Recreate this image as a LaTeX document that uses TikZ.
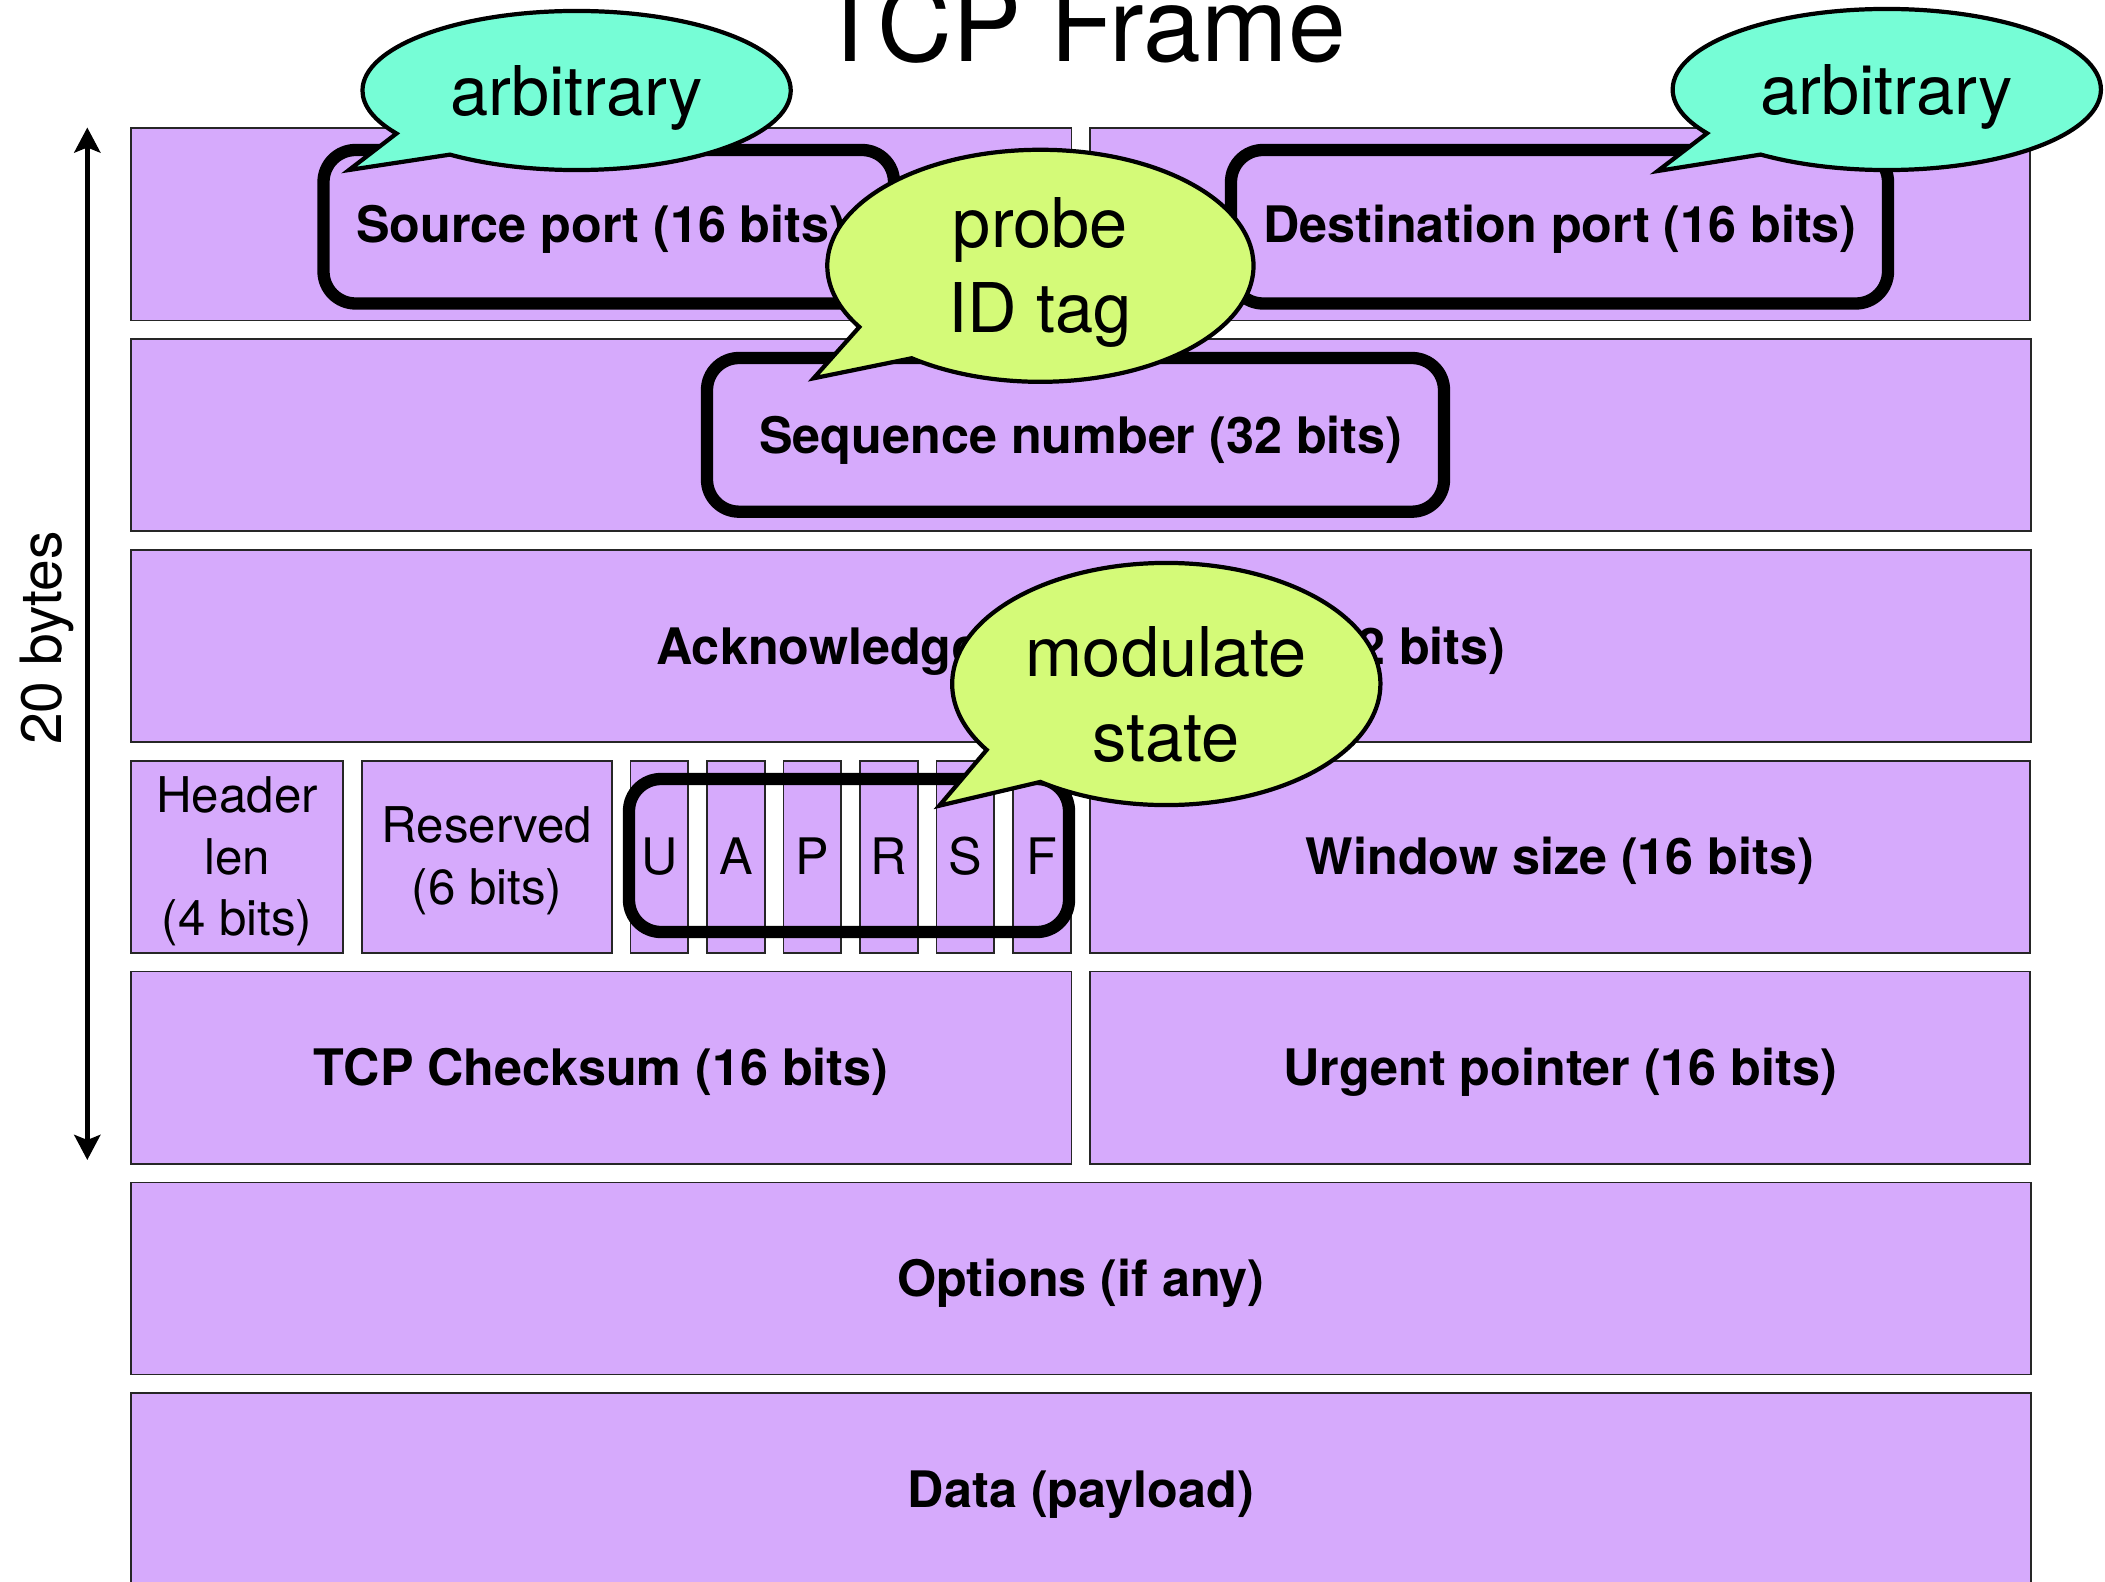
\documentclass[tikz,border=0pt]{standalone}
\usepackage{fontspec}
\setmainfont{TeX Gyre Heros}
\usetikzlibrary{arrows.meta,shapes.callouts}

\definecolor{fieldpurple}{RGB}{214,170,252}
\definecolor{bubbleaqua}{RGB}{118,253,214}
\definecolor{bubblelime}{RGB}{212,250,120}

\begin{document}
\begin{tikzpicture}[x=0.01cm,y=-0.01cm,
  field/.style={draw=black!85,line width=0.5pt,fill=fieldpurple,minimum height=1.92cm,
    anchor=north west,inner sep=0pt,align=center},
  boldlabel/.style={font=\fontsize{14.3}{17.5}\selectfont\bfseries,text height=0.48cm,text depth=0.12cm},
  smallfield/.style={font=\fontsize{14}{17.5}\selectfont},
  flaglabel/.style={font=\fontsize{14.3}{17.5}\selectfont,text height=0.48cm,text depth=0.12cm},
  ring/.style={draw=black,line width=3.5pt,rounded corners=0.32cm},
  bubble/.style={ellipse callout,draw=black,line width=1.2pt,callout pointer arc=21,
    inner sep=0pt,align=center,font=\fontsize{19.5}{24.2}\selectfont},
  span/.style={line width=1.4pt,{Stealth[length=0.25cm,width=0.26cm,inset=0.05cm]}-{Stealth[length=0.25cm,width=0.26cm,inset=0.05cm]}}]
\useasboundingbox (0,0) rectangle (2105,1582);
\clip (0,0) rectangle (2105,1582);

\node[anchor=base,font=\fontsize{29.5}{32}\selectfont] (title) at (1082,61.7) {TCP Frame};

\node[field,boldlabel,minimum width=9.4cm] (srcport) at (130,127.5) {Source port (16 bits)};
\node[field,boldlabel,minimum width=9.4cm] (dstport) at (1088.8,127.5) {Destination port (16 bits)};
\node[field,boldlabel,minimum width=18.988cm] (seqnum) at (130,338.3) {Sequence number (32 bits)};
\node[field,boldlabel,minimum width=18.988cm] (acknum) at (130,549.1) {Acknowledgement number (32 bits)};
\node[field,smallfield,minimum width=2.123cm] (hdrlen) at (130,759.9) {\rule{0pt}{0.45cm}Header\\len\\(4 bits)};
\node[field,smallfield,minimum width=2.497cm] (reserved) at (361.1,759.9) {\rule{0pt}{0.44cm}Reserved\\(6 bits)};
\foreach \f [count=\i from 0] in {U,A,P,R,S,F}
  \node[field,flaglabel,minimum width=0.577cm] (flag\f) at (629.6+76.5*\i,759.9) {\f};
\node[field,boldlabel,minimum width=9.4cm] (window) at (1088.8,759.9) {Window size (16 bits)};
\node[field,boldlabel,minimum width=9.4cm] (checksum) at (130,970.7) {TCP Checksum (16 bits)};
\node[field,boldlabel,minimum width=9.4cm] (urgent) at (1088.8,970.7) {Urgent pointer (16 bits)};
\node[field,boldlabel,minimum width=18.988cm] (options) at (130,1181.5) {Options (if any)};
\node[field,boldlabel,minimum width=18.988cm] (payload) at (130,1392.3) {Data (payload)};

\coordinate (bytestop) at (87.3,127.5);
\coordinate (bytesbot) at (87.3,1160);
\draw[span] (bytestop) -- (bytesbot);
\node[rotate=90,inner sep=0pt,font=\fontsize{16.2}{18}\selectfont] (bytes) at (46.7,638) {20 bytes};

\draw[ring] (323.5,150) rectangle (894,303.5);
\draw[ring] (1231,150) rectangle (1888,303.5);
\draw[ring] (707,358) rectangle (1444,511.7);
\draw[ring] (629,779) rectangle (1069,932);

\coordinate (srctip) at (349,170);
\coordinate (dsttip) at (1657.7,171);
\coordinate (probetip) at (813.6,378.3);
\coordinate (flagtip) at (939.3,805.7);
\node[bubble,fill=bubbleaqua,minimum width=4.28cm,minimum height=1.59cm,text height=0.64cm,
  callout absolute pointer={(srctip)}] (arbsrc) at (576.6,90.5) {arbitrary};
\node[bubble,fill=bubbleaqua,minimum width=4.28cm,minimum height=1.61cm,text height=0.65cm,
  callout absolute pointer={(dsttip)}] (arbdst) at (1886.8,89.5) {arbitrary};
\node[bubble,fill=bubblelime,minimum width=4.26cm,minimum height=2.25cm,
  callout absolute pointer={(probetip)}] (probe) at (1040.4,265.8) {\rule{0pt}{0.64cm}probe\\ID tag};
\node[bubble,fill=bubblelime,minimum width=4.28cm,minimum height=2.42cm,
  callout absolute pointer={(flagtip)}] (modulate) at (1166.3,684) {\rule{0pt}{0.71cm}modulate\\state};
\end{tikzpicture}
\end{document}
